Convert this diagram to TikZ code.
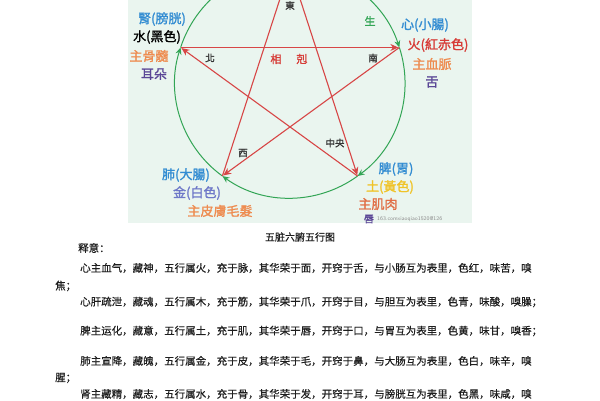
\documentclass[tikz,border=0pt]{standalone}
\usepackage{fontspec}
\newfontfamily\zhtc[FakeBold=1.6]{Noto Sans CJK TC}
\newfontfamily\zhsc[FakeBold=0.5]{Noto Sans CJK SC}
\usetikzlibrary{arrows.meta,calc}
\definecolor{panelbg}{RGB}{234,245,239}
\definecolor{shenggreen}{RGB}{50,165,85}
\definecolor{kered}{RGB}{215,70,70}
\definecolor{zangblue}{RGB}{50,140,210}
\definecolor{senseviolet}{RGB}{90,70,150}
\definecolor{mainorange}{RGB}{238,140,80}
\definecolor{firered}{RGB}{215,60,55}
\definecolor{metallav}{RGB}{110,120,200}
\definecolor{earthyel}{RGB}{240,195,40}
\definecolor{fleshorange}{RGB}{225,110,70}
\definecolor{bodytext}{RGB}{30,30,30}
\tikzset{
  sheng/.style={draw=shenggreen,line width=1pt,-{Stealth[length=7pt,width=6pt]}},
  ke/.style={draw=kered,line width=1.1pt,-{Stealth[length=8pt,width=7pt]},shorten >=1pt},
  lab/.style={font=\zhtc\fontsize{13}{14}\selectfont,inner sep=0pt},
  dirlab/.style={font=\zhtc\fontsize{9.5}{10}\selectfont,inner sep=0pt,text=black!80},
  bodyline/.style={font=\zhsc\fontsize{10.5}{11}\selectfont,inner sep=0pt,anchor=west,text=bodytext}
}
\begin{document}
\begin{tikzpicture}[x=1pt,y=-1pt]
\useasboundingbox (0,0) rectangle (600,400);
\fill[panelbg] (128,0) rectangle (472,223);
\begin{scope}
\clip (128,0) rectangle (472,223);
\coordinate (C) at (290,83);
\coordinate (T) at ($(C)+(-90:115)$);
\coordinate (R) at ($(C)+(-18:115)$);
\coordinate (BR) at ($(C)+(54:115)$);
\coordinate (BL) at ($(C)+(126:115)$);
\coordinate (L) at ($(C)+(198:115)$);
% generating cycle (green circle)
\draw[sheng] (T) arc[start angle=-90,end angle=-18,radius=115];
\draw[sheng] (R) arc[start angle=-18,end angle=54,radius=115];
\draw[sheng] (BR) arc[start angle=54,end angle=126,radius=115];
\draw[sheng] (BL) arc[start angle=126,end angle=198,radius=115];
\draw[sheng] (L) arc[start angle=198,end angle=270,radius=115];
% controlling cycle (red star)
\draw[ke] (T) -- (BR);
\draw[ke] (BR) -- (L);
\draw[ke] (L) -- (R);
\draw[ke] (R) -- (BL);
\draw[ke] (BL) -- (T);
\end{scope}
% direction labels
\node[dirlab] (east) at (290,5.5) {東};
\node[dirlab] (north) at (210,58) {北};
\node[dirlab] (south) at (373,58) {南};
\node[dirlab] (west) at (243,153) {西};
\node[dirlab] (center) at (335,143) {中央};
\node[lab,text=shenggreen,font=\zhtc\fontsize{11}{12}\selectfont] (shenglab) at (370,21) {生};
\node[lab,text=firered,font=\zhtc\fontsize{11}{12}\selectfont] (xiang) at (276,59) {相};
\node[lab,text=firered,font=\zhtc\fontsize{11}{12}\selectfont] (ke) at (302,59) {剋};
% water group
\node[lab,text=zangblue] (shen) at (162,19) {腎(膀胱)};
\node[lab,text=black] (water) at (157,37) {水(黑色)};
\node[lab,text=mainorange] (gusui) at (149,56) {主骨髓};
\node[lab,text=senseviolet] (ear) at (154,74) {耳朵};
% fire group
\node[lab,text=zangblue] (xin) at (425,25) {心(小腸)};
\node[lab,text=firered] (fire) at (438,45) {火(紅赤色)};
\node[lab,text=mainorange] (xuemai) at (432,64) {主血脈};
\node[lab,text=senseviolet] (tongue) at (432,82) {舌};
% metal group
\node[lab,text=zangblue] (fei) at (186,175) {肺(大腸)};
\node[lab,text=metallav] (metal) at (197,193) {金(白色)};
\node[lab,text=mainorange] (pimao) at (220,211) {主皮膚毛髮};
% earth group
\node[lab,text=zangblue] (pi) at (396,169) {脾(胃)};
\node[lab,text=earthyel] (earth) at (390,187) {土(黃色)};
\node[lab,text=fleshorange] (jirou) at (378,204) {主肌肉};
\node[lab,text=senseviolet,font=\zhtc\fontsize{10}{11}\selectfont] (lip) at (369,219) {唇};
\node[inner sep=0pt,anchor=west,text=black!45,font=\sffamily\fontsize{5.5}{6}\selectfont] (mark) at (377,219) {163.comxiaoqiao1520@126};
% caption and notes
\node[font=\zhsc\fontsize{10}{11}\selectfont,inner sep=0pt,text=bodytext] (caption) at (300,237) {五脏六腑五行图};
\node[bodyline] (note) at (78,248) {释意：};
\node[bodyline] (l1) at (80,268) {心主血气，藏神，五行属火，充于脉，其华荣于面，开窍于舌，与小肠互为表里，色红，味苦，嗅};
\node[bodyline] (l1b) at (55,286) {焦；};
\node[bodyline] (l2) at (80,302) {心肝疏泄，藏魂，五行属木，充于筋，其华荣于爪，开窍于目，与胆互为表里，色青，味酸，嗅臊；};
\node[bodyline] (l3) at (80,331) {脾主运化，藏意，五行属土，充于肌，其华荣于唇，开窍于口，与胃互为表里，色黄，味甘，嗅香；};
\node[bodyline] (l4) at (80,361) {肺主宣降，藏魄，五行属金，充于皮，其华荣于毛，开窍于鼻，与大肠互为表里，色白，味辛，嗅};
\node[bodyline] (l4b) at (55,378) {腥；};
\node[bodyline] (l5) at (80,394) {肾主藏精，藏志，五行属水，充于骨，其华荣于发，开窍于耳，与膀胱互为表里，色黑，味咸，嗅};
\end{tikzpicture}
\end{document}
